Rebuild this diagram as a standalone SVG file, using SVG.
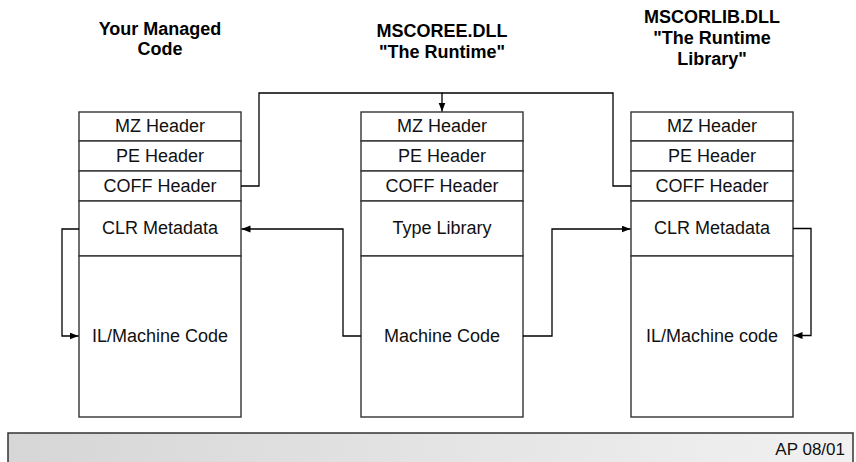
<svg xmlns="http://www.w3.org/2000/svg" width="856" height="462" viewBox="0 0 856 462">
  <defs>
    <marker id="arrow" markerUnits="userSpaceOnUse" markerWidth="10" markerHeight="8" refX="9" refY="3.5" orient="auto">
      <path d="M0,0 L9,3.5 L0,7 z" fill="#000"/>
    </marker>
    <linearGradient id="barFill" x1="0" y1="0" x2="1" y2="0">
      <stop offset="0" stop-color="#d6d6d6"/>
      <stop offset="1" stop-color="#f1f1f1"/>
    </linearGradient>
    <style>
      .title { font-family: "Liberation Sans", Arial, sans-serif; font-weight: bold; font-size: 18px; text-anchor: middle; fill: #000; }
      .cell { fill: #fff; stroke: #333; stroke-width: 1.4; }
      .label { font-family: "Liberation Sans", Arial, sans-serif; font-size: 18px; text-anchor: middle; fill: #111; }
      .wire { fill: none; stroke: #000; stroke-width: 1.3; }
      .foot { font-family: "Liberation Sans", Arial, sans-serif; font-size: 17px; text-anchor: end; fill: #111; }
    </style>
  </defs>

  <rect width="856" height="462" fill="#fff"/>

  <!-- column headings -->
  <g id="title-managed">
    <text class="title" x="160" y="35">Your Managed</text>
    <text class="title" x="160" y="55">Code</text>
  </g>
  <g id="title-mscoree">
    <text class="title" x="442" y="37">MSCOREE.DLL</text>
    <text class="title" x="442" y="58">"The Runtime"</text>
  </g>
  <g id="title-mscorlib">
    <text class="title" x="712" y="23">MSCORLIB.DLL</text>
    <text class="title" x="712" y="44">"The Runtime</text>
    <text class="title" x="712" y="65">Library"</text>
  </g>

  <!-- managed code image -->
  <g id="managed-code">
    <rect class="cell" x="79" y="112" width="162" height="29"/>
    <rect class="cell" x="79" y="141" width="162" height="30"/>
    <rect class="cell" x="79" y="171" width="162" height="30"/>
    <rect class="cell" x="79" y="201" width="162" height="55"/>
    <rect class="cell" x="79" y="256" width="162" height="161"/>
    <text class="label" x="160" y="132">MZ Header</text>
    <text class="label" x="160" y="162">PE Header</text>
    <text class="label" x="160" y="191.5">COFF Header</text>
    <text class="label" x="160" y="234">CLR Metadata</text>
    <text class="label" x="160" y="341.5">IL/Machine Code</text>
  </g>

  <!-- runtime image -->
  <g id="mscoree">
    <rect class="cell" x="361" y="112" width="162" height="29"/>
    <rect class="cell" x="361" y="141" width="162" height="30"/>
    <rect class="cell" x="361" y="171" width="162" height="30"/>
    <rect class="cell" x="361" y="201" width="162" height="55"/>
    <rect class="cell" x="361" y="256" width="162" height="161"/>
    <text class="label" x="442" y="132">MZ Header</text>
    <text class="label" x="442" y="162">PE Header</text>
    <text class="label" x="442" y="191.5">COFF Header</text>
    <text class="label" x="442" y="234">Type Library</text>
    <text class="label" x="442" y="341.5">Machine Code</text>
  </g>

  <!-- runtime library image -->
  <g id="mscorlib">
    <rect class="cell" x="631" y="112" width="162" height="29"/>
    <rect class="cell" x="631" y="141" width="162" height="30"/>
    <rect class="cell" x="631" y="171" width="162" height="30"/>
    <rect class="cell" x="631" y="201" width="162" height="55"/>
    <rect class="cell" x="631" y="256" width="162" height="161"/>
    <text class="label" x="712" y="132">MZ Header</text>
    <text class="label" x="712" y="162">PE Header</text>
    <text class="label" x="712" y="191.5">COFF Header</text>
    <text class="label" x="712" y="234">CLR Metadata</text>
    <text class="label" x="712" y="341.5">IL/Machine code</text>
  </g>

  <!-- connectors -->
  <g id="connectors">
    <path class="wire" d="M241,186 H259 V93 H442 V111.5" marker-end="url(#arrow)"/>
    <path class="wire" d="M631,186 H613 V93 H442"/>
    <path class="wire" d="M361,336 H343 V229 H241.5" marker-end="url(#arrow)"/>
    <path class="wire" d="M523,336 H552 V229 H630.5" marker-end="url(#arrow)"/>
    <path class="wire" d="M79,229 H62 V336 H78.5" marker-end="url(#arrow)"/>
    <path class="wire" d="M793,228.5 H811 V335.5 H793.5" marker-end="url(#arrow)"/>
  </g>

  <!-- footer bar -->
  <g id="footer">
    <rect x="8" y="433" width="845" height="40" fill="url(#barFill)" stroke="#333" stroke-width="1.5"/>
    <text class="foot" x="845" y="455">AP 08/01</text>
  </g>
</svg>
